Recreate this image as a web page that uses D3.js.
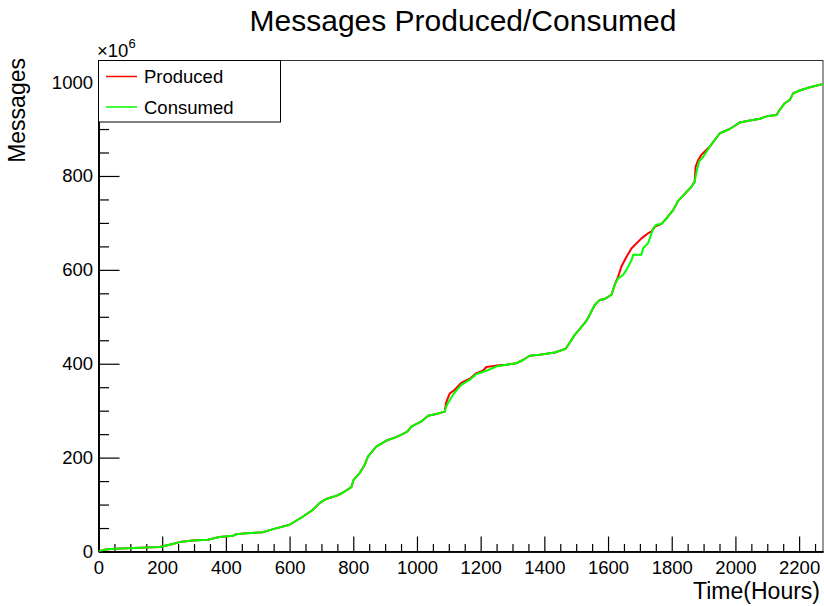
<!DOCTYPE html>
<html>
<head>
<meta charset="utf-8">
<script src="https://cdn.jsdelivr.net/npm/d3@7"></script>
<style>
  html, body { margin: 0; padding: 0; background: #fff; }
  svg { display: block; font-family: "Liberation Sans", Arial, Helvetica, sans-serif; }
</style>
</head>
<body>
<svg id="chart" width="824" height="606"></svg>
<script>
// Cumulative message counts (units of 10^6) against elapsed time in hours
const producedHours = [0, 22, 50, 192, 233, 254, 296, 343, 380, 422, 433, 464, 516, 548, 600, 642, 673, 694, 715, 747, 768, 794, 801, 820, 836, 846, 872, 904, 935, 961, 972, 982, 1014, 1035, 1061, 1087,
  1092, 1103, 1118, 1139, 1166, 1187, 1207, 1218, 1249, 1281, 1312, 1333,
  1354, 1385, 1433, 1467, 1495, 1527, 1537, 1558, 1574, 1590, 1611, 1621,
  1632, 1642, 1658, 1674, 1705, 1726, 1737, 1747,
  1768, 1784, 1805, 1820, 1862, 1872,
  1875, 1883, 1893, 1899,
  1920, 1951, 1982, 2014, 2045, 2077, 2103, 2129, 2139, 2155, 2171, 2181, 2202, 2234, 2276];
const producedMsgs = [0, 4.3, 5.8, 9.4, 15.8, 20, 23.4, 24.9, 30.7, 33.4, 37, 39, 41, 47.7, 57, 74.5, 88.8, 103, 112, 118.6, 125.7, 137, 152.7, 167, 184.7, 202, 223.6, 236.4, 243.7, 252, 257, 266, 277, 289, 293, 298,
  318, 337, 344, 359, 368, 380, 385, 393, 396, 398, 401, 408,
  417, 419, 424, 432, 461, 487, 497, 525, 536, 538, 547, 568,
  586, 607, 628, 646, 667, 678, 682, 692,
  698, 710, 728, 747, 777, 788,
  820, 834, 845, 849,
  863, 891, 900, 914, 918, 922, 928, 930, 941, 955, 962, 976, 982, 989, 996];

const consumedHours = [0, 22, 50, 192, 233, 254, 296, 343, 380, 422, 433, 464, 516, 548, 600, 642, 673, 694, 715, 747, 768, 794, 801, 820, 836, 846, 872, 904, 935, 961, 972, 982, 1014, 1035, 1061, 1087,
  1092, 1097, 1113, 1139, 1166, 1187, 1218, 1249, 1281, 1312, 1333,
  1354, 1385, 1433, 1467, 1495, 1527, 1537, 1558, 1574, 1590, 1611, 1621,
  1632, 1647, 1658, 1674, 1679, 1705, 1710, 1726, 1742, 1752,
  1768, 1784, 1805, 1820, 1862, 1872,
  1878, 1886, 1899,
  1920, 1951, 1982, 2014, 2045, 2077, 2103, 2129, 2139, 2155, 2171, 2181, 2202, 2234, 2276];
const consumedMsgs = [0, 4.3, 5.8, 9.4, 15.8, 20, 23.4, 24.9, 30.7, 33.4, 37, 39, 41, 47.7, 57, 74.5, 88.8, 103, 112, 118.6, 125.7, 137, 152.7, 167, 184.7, 202, 223.6, 236.4, 243.7, 252, 257, 266, 277, 289, 293, 298,
  309, 316, 334, 355, 366, 378, 385, 394, 398, 401, 408,
  417, 419, 424, 432, 461, 487, 497, 525, 536, 538, 547, 568,
  582, 589, 600, 621, 632, 632, 646, 657, 689, 696,
  698, 710, 728, 747, 777, 788,
  809, 831, 841,
  863, 891, 900, 914, 918, 922, 928, 930, 941, 955, 962, 976, 982, 989, 996];

const seriesNames = ["Produced", "Consumed"];
const seriesColors = ["#ff0000", "#00ff00"];

const xMajorTicks = [0, 200, 400, 600, 800, 1000, 1200, 1400, 1600, 1800, 2000, 2200];
const yMajorTicks = [0, 200, 400, 600, 800, 1000];
const xDomain = [0, 2275];
const yDomain = [0, 1046];

const svg = d3.select("#chart");

const frame = { left: 98.5, right: 823, top: 60.5, bottom: 551.5 };

const x = d3.scaleLinear().domain(xDomain).range([frame.left, frame.right]);
const y = d3.scaleLinear().domain(yDomain).range([frame.bottom, frame.top]);

// Title
svg.append("text")
  .attr("x", 463).attr("y", 31)
  .attr("text-anchor", "middle")
  .attr("font-size", 30)
  .attr("fill", "#000")
  .text("Messages Produced/Consumed");

// Plot frame
svg.append("rect")
  .attr("x", frame.left).attr("y", frame.top)
  .attr("width", frame.right - frame.left)
  .attr("height", frame.bottom - frame.top)
  .attr("fill", "none")
  .attr("stroke", "#333")
  .attr("stroke-width", 1);

// X axis: major ticks with labels, minor ticks every 50 h, drawn inside the frame
const xMinor = d3.range(xDomain[0], xDomain[1] + 1, 50).filter(v => v % 200 !== 0);
const gx = svg.append("g").attr("transform", `translate(0,${frame.bottom})`);
gx.call(d3.axisBottom(x).tickValues(xMajorTicks).tickSize(-15).tickSizeOuter(0).tickPadding(9).tickFormat(d3.format("d")));
const gxm = svg.append("g").attr("transform", `translate(0,${frame.bottom})`);
gxm.call(d3.axisBottom(x).tickValues(xMinor).tickSize(-7.5).tickSizeOuter(0).tickFormat(""));

// Y axis: major ticks with labels, minor ticks every 50
const yMinor = d3.range(yDomain[0], yDomain[1], 50).filter(v => v % 200 !== 0);
const gy = svg.append("g").attr("transform", `translate(${frame.left},0)`);
gy.call(d3.axisLeft(y).tickValues(yMajorTicks).tickSize(-21).tickSizeOuter(0).tickPadding(5.5).tickFormat(d3.format("d")));
const gym = svg.append("g").attr("transform", `translate(${frame.left},0)`);
gym.call(d3.axisLeft(y).tickValues(yMinor).tickSize(-10.5).tickSizeOuter(0).tickFormat(""));

svg.selectAll(".tick text")
  .attr("font-size", 18.5)
  .attr("font-family", "Liberation Sans, Arial, Helvetica, sans-serif")
  .attr("fill", "#000");
svg.selectAll(".tick line").attr("stroke", "#000").attr("stroke-width", 1.2);
svg.selectAll(".domain").attr("stroke", "#000").attr("stroke-width", 1.6);

// Exponent label for the y axis
const expo = svg.append("text")
  .attr("x", 97).attr("y", 57)
  .attr("font-size", 18.5)
  .attr("fill", "#000");
expo.append("tspan").text("\u00d710");
expo.append("tspan").attr("font-size", 13).attr("dy", -9).text("6");

// Axis titles
svg.append("text")
  .attr("x", 820).attr("y", 599)
  .attr("text-anchor", "end")
  .attr("font-size", 23)
  .attr("fill", "#000")
  .text("Time(Hours)");

svg.append("text")
  .attr("transform", "translate(25,58) rotate(-90)")
  .attr("text-anchor", "end")
  .attr("font-size", 23)
  .attr("fill", "#000")
  .text("Messages");

// Curves
svg.append("clipPath").attr("id", "plot-clip")
  .append("rect")
  .attr("x", frame.left).attr("y", frame.top)
  .attr("width", frame.right - frame.left)
  .attr("height", frame.bottom - frame.top);

const line = d3.line().x(d => x(d[0])).y(d => y(d[1]));
const series = [
  d3.zip(producedHours, producedMsgs),
  d3.zip(consumedHours, consumedMsgs)
];

svg.append("g").attr("clip-path", "url(#plot-clip)")
  .selectAll("path")
  .data(series)
  .join("path")
  .attr("d", line)
  .attr("fill", "none")
  .attr("stroke", (d, i) => seriesColors[i])
  .attr("stroke-width", 2)
  .attr("stroke-linejoin", "round");

// Legend
const legend = svg.append("g");
legend.append("rect")
  .attr("x", frame.left).attr("y", frame.top)
  .attr("width", 182).attr("height", 61.5)
  .attr("fill", "#fff")
  .attr("stroke", "#000")
  .attr("stroke-width", 1);

const legendRows = [76.5, 107];
seriesNames.forEach((name, i) => {
  legend.append("line")
    .attr("x1", 106).attr("x2", 137)
    .attr("y1", legendRows[i]).attr("y2", legendRows[i])
    .attr("stroke", seriesColors[i])
    .attr("stroke-width", 1.5);
  legend.append("text")
    .attr("x", 144).attr("y", legendRows[i] + 6.5)
    .attr("font-size", 18.5)
    .attr("fill", "#000")
    .text(name);
});
</script>
</body>
</html>
